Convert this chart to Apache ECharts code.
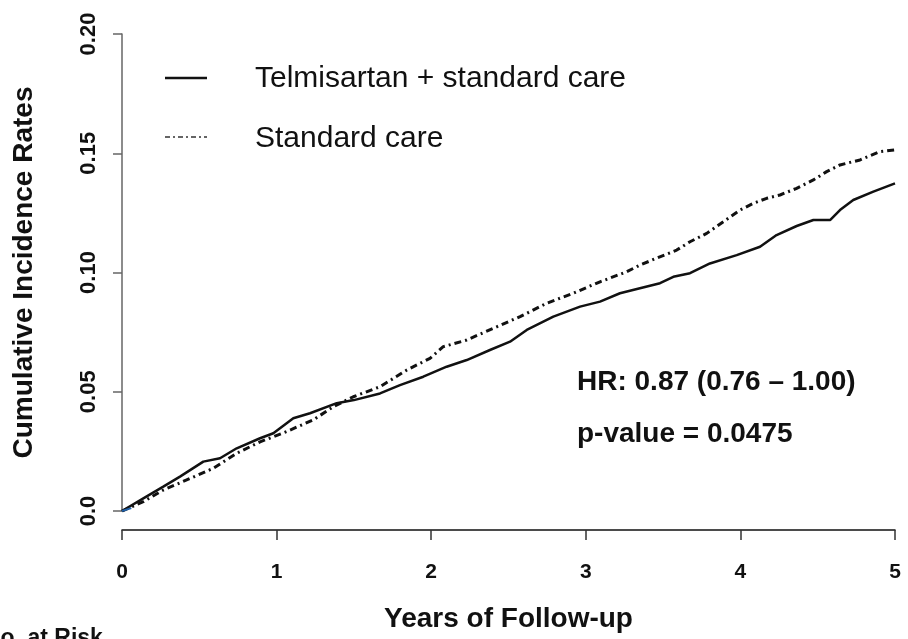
<!DOCTYPE html>
<html>
<head>
<meta charset="utf-8">
<script src="https://cdn.jsdelivr.net/npm/echarts@6/dist/echarts.min.js"></script>
<style>
  html, body { margin: 0; padding: 0; background: #fff; }
  #chart { width: 908px; height: 639px; }
</style>
</head>
<body>
<div id="chart"></div>
<script>
// Cumulative incidence by years of follow-up
const yearTicks = [0, 1, 2, 3, 4, 5];
const rateTicks = [0, 0.05, 0.10, 0.15, 0.20];

const seriesNames = ['Telmisartan + standard care', 'Standard care'];

// Telmisartan + standard care: [years, cumulative incidence]
const telmisartan = [
  [0, 0], [0.138, 0.0053], [0.267, 0.0102], [0.375, 0.0144], [0.526, 0.0207],
  [0.634, 0.0221], [0.742, 0.0263], [0.893, 0.0305], [0.979, 0.0326],
  [1.108, 0.0389], [1.216, 0.041], [1.389, 0.0452], [1.5, 0.0465],
  [1.669, 0.0493], [1.798, 0.0528], [1.949, 0.0563], [2.1, 0.0605],
  [2.23, 0.0633], [2.38, 0.0675], [2.51, 0.071], [2.618, 0.0759],
  [2.79, 0.0815], [2.963, 0.0857], [3.092, 0.0878], [3.221, 0.0913],
  [3.35, 0.0934], [3.48, 0.0955], [3.566, 0.0982], [3.674, 0.0997],
  [3.803, 0.1038], [3.976, 0.1073], [4.127, 0.1108], [4.234, 0.1157],
  [4.364, 0.1195], [4.472, 0.122], [4.58, 0.122], [4.644, 0.1262],
  [4.73, 0.1304], [4.86, 0.1339], [5.0, 0.1374]
];

// Standard care: [years, cumulative incidence]
const standardCare = [
  [0, 0], [0.138, 0.0039], [0.267, 0.0088], [0.418, 0.013], [0.59, 0.0179],
  [0.742, 0.0242], [0.893, 0.029], [1.065, 0.0333], [1.237, 0.0382],
  [1.367, 0.0437], [1.496, 0.0479], [1.669, 0.0521], [1.842, 0.0591],
  [1.992, 0.064], [2.078, 0.0689], [2.23, 0.0717], [2.402, 0.0766],
  [2.575, 0.0815], [2.747, 0.0871], [2.919, 0.0913], [3.092, 0.0961],
  [3.264, 0.1003], [3.35, 0.1031], [3.458, 0.106], [3.588, 0.1094],
  [3.674, 0.1129], [3.782, 0.1164], [3.89, 0.1213], [3.998, 0.1262],
  [4.084, 0.129], [4.17, 0.1311], [4.256, 0.1325], [4.364, 0.1353],
  [4.472, 0.1388], [4.558, 0.1423], [4.644, 0.1451], [4.774, 0.1472],
  [4.903, 0.1507], [5.0, 0.1514]
];

// short coloured stub at the origin
const originStub = [[0, 0], [0.06, 0.0012]];

const hrText = 'HR: 0.87 (0.76 \u2013 1.00)';
const pText = 'p-value = 0.0475';
const riskText = 'No. at Risk';

const FONT = '"Liberation Sans", Arial, Helvetica, sans-serif';

const chart = echarts.init(document.getElementById('chart'), null, { renderer: 'canvas' });

chart.setOption({
  backgroundColor: '#ffffff',
  animation: false,
  grid: { left: 122, right: 13, top: 34, bottom: 128, containLabel: false },
  xAxis: {
    type: 'value',
    min: 0,
    max: 5,
    interval: 1,
    offset: 19,
    name: 'Years of Follow-up',
    nameLocation: 'middle',
    nameGap: 75,
    nameTextStyle: { fontFamily: FONT, fontSize: 28, fontWeight: 'bold', color: '#111' },
    axisLine: { show: true, onZero: false, lineStyle: { color: '#111', width: 1.5 } },
    axisTick: { show: true, length: 10, lineStyle: { color: '#333', width: 1.5 } },
    axisLabel: {
      margin: 32,
      fontFamily: FONT, fontSize: 21, fontWeight: 'bold', color: '#111',
      formatter: v => yearTicks.includes(v) ? String(v) : ''
    },
    splitLine: { show: false }
  },
  yAxis: {
    type: 'value',
    min: 0,
    max: 0.2,
    interval: 0.05,
    name: 'Cumulative Incidence Rates',
    nameLocation: 'middle',
    nameRotate: 90,
    nameGap: 84,
    nameTextStyle: { fontFamily: FONT, fontSize: 28, fontWeight: 'bold', color: '#111' },
    axisLine: { show: true, lineStyle: { color: '#666', width: 1.5 } },
    axisTick: { show: true, length: 9, lineStyle: { color: '#666', width: 1.5 } },
    axisLabel: {
      rotate: 90,
      margin: 22,
      fontFamily: FONT, fontSize: 22, fontWeight: 'bold', color: '#111',
      formatter: v => {
        const t = rateTicks.find(r => Math.abs(r - v) < 1e-9);
        if (t === undefined) return '';
        return t === 0 ? '0.0' : t.toFixed(2);
      }
    },
    splitLine: { show: false }
  },
  series: [
    {
      name: seriesNames[0],
      type: 'line',
      data: telmisartan,
      showSymbol: false,
      symbol: 'none',
      lineStyle: { color: '#111', width: 2.5 },
      z: 3
    },
    {
      name: seriesNames[1],
      type: 'line',
      data: standardCare,
      showSymbol: false,
      symbol: 'none',
      lineStyle: { color: '#111', width: 3, type: [7, 4, 2, 4] },
      z: 2
    },
    {
      name: 'origin',
      type: 'line',
      data: originStub,
      showSymbol: false,
      symbol: 'none',
      silent: true,
      lineStyle: { color: '#1f5fa8', width: 2 },
      z: 4
    }
  ],
  graphic: [
    // key
    {
      type: 'line', shape: { x1: 165, y1: 78, x2: 207, y2: 78 },
      style: { stroke: '#111', lineWidth: 2.5 }
    },
    {
      type: 'text', left: 255, top: 64,
      style: { text: seriesNames[0], font: '30px ' + FONT, fill: '#111' }
    },
    {
      type: 'line', shape: { x1: 165, y1: 137, x2: 207, y2: 137 },
      style: { stroke: '#333', lineWidth: 1.5, lineDash: [5, 3, 2, 3] }
    },
    {
      type: 'text', left: 255, top: 124,
      style: { text: seriesNames[1], font: '30px ' + FONT, fill: '#111' }
    },
    // statistics
    {
      type: 'text', left: 577, top: 368,
      style: { text: hrText, font: 'bold 28px ' + FONT, fill: '#111' }
    },
    {
      type: 'text', left: 577, top: 420,
      style: { text: pText, font: 'bold 28px ' + FONT, fill: '#111' }
    },
    {
      type: 'text', left: -16, top: 627,
      style: { text: riskText, font: 'bold 23px ' + FONT, fill: '#111' }
    }
  ]
});
</script>
</body>
</html>
